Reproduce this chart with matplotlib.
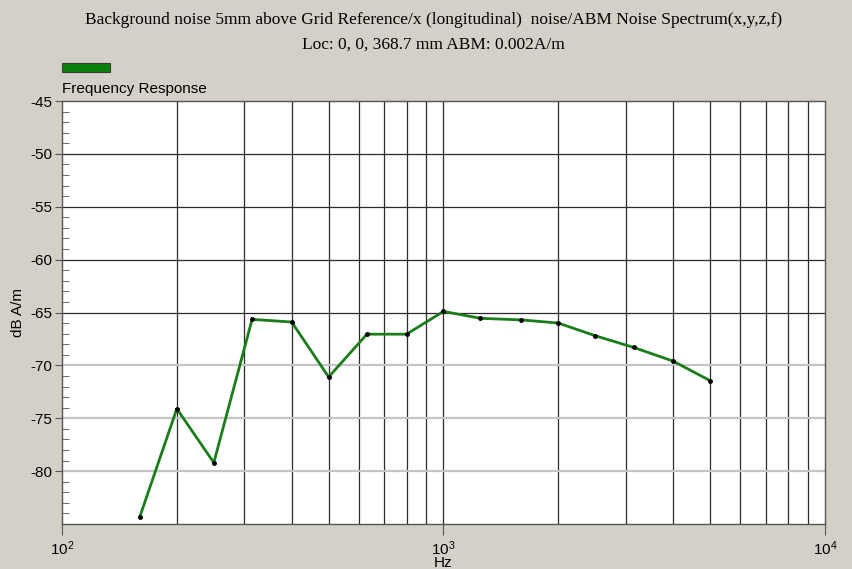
import matplotlib
matplotlib.use("Agg")
import matplotlib.pyplot as plt
from matplotlib.patches import Rectangle
from matplotlib.ticker import FixedLocator, LogLocator, LogFormatterMathtext

plt.rcParams["axes.unicode_minus"] = False

freqs = [160, 200, 250, 315, 400, 500, 630, 800, 1000, 1250, 1600, 2000, 2500, 3150, 4000, 5000]
levels = [-84.3, -74.1, -79.2, -65.65, -65.9, -71.1, -67.05, -67.05, -64.9,
          -65.55, -65.7, -66.0, -67.2, -68.3, -69.6, -71.45]
y_ticks = [-80, -75, -70, -65, -60, -55, -50, -45]
title1 = "Background noise 5mm above Grid Reference/x (longitudinal)  noise/ABM Noise Spectrum(x,y,z,f)"
title2 = "Loc: 0, 0, 368.7 mm ABM: 0.002A/m"
series_name = "Frequency Response"

bg = "#d4d0c8"
fig = plt.figure(figsize=(8.53, 5.69), dpi=100, facecolor=bg)
ax = fig.add_axes([62/853, 1-524/569, (825-62)/853, (524-101)/569])
ax.set_facecolor("white")

ax.set_xscale("log")
ax.set_xlim(100, 10000)
ax.set_ylim(-85, -45)

# grid
for v in [x * m for m in (100, 1000) for x in range(2, 10)] + [1000]:
    ax.axvline(v, color="#2a2a2a", lw=0.9, zorder=1)
for v in y_ticks:
    if v == -45:
        continue
    col = "#2a2a2a" if v >= -65 else "#c4c4c4"
    lw = 0.9 if v >= -65 else 1.6
    ax.axhline(v, color=col, lw=lw, zorder=1)

ax.plot(freqs, levels, color="#1a7d1a", lw=2.0, zorder=3)
ax.plot(freqs, levels, ls="none", marker="o", ms=2.5, color="black", zorder=4)

for s in ax.spines.values():
    s.set_color("#555555")
    s.set_linewidth(1.0)

ax.yaxis.set_major_locator(FixedLocator(y_ticks))
ax.yaxis.set_minor_locator(FixedLocator([v for v in range(-84, -45) if v % 5 != 0]))
ax.tick_params(axis="y", which="major", direction="out", length=5, color="#555555",
               labelsize=11, pad=2)
ax.tick_params(axis="y", which="minor", direction="in", length=5, color="#555555")
ax.xaxis.set_major_locator(LogLocator(base=10, numticks=5))
ax.xaxis.set_minor_locator(FixedLocator([]))
ax.xaxis.set_major_formatter(LogFormatterMathtext())
ax.tick_params(axis="x", which="major", direction="out", length=8, color="#555555",
               labelsize=11, pad=3)
for lab in ax.get_xticklabels() + ax.get_yticklabels():
    lab.set_family("Liberation Sans")

ax.set_xlabel("Hz", fontsize=11, family="Liberation Sans", labelpad=-1)
ax.set_ylabel("dB A/m", fontsize=11, family="Liberation Sans", labelpad=4)

fig.text(0.508, 1-20/569, title1, ha="center", va="center", fontsize=12.5,
         family="Liberation Serif")
fig.text(0.508, 1-45/569, title2, ha="center", va="center", fontsize=12.5,
         family="Liberation Serif")

fig.patches.append(Rectangle((62/853, 1-72/569), 48/853, 9/569, transform=fig.transFigure,
                             facecolor="#0a800a", edgecolor="#3a3a3a", lw=0.8))
fig.text(62/853, 1-89/569, series_name, ha="left", va="center", fontsize=11,
         family="Liberation Sans")

fig.savefig("out.png", dpi=100, facecolor=bg)
